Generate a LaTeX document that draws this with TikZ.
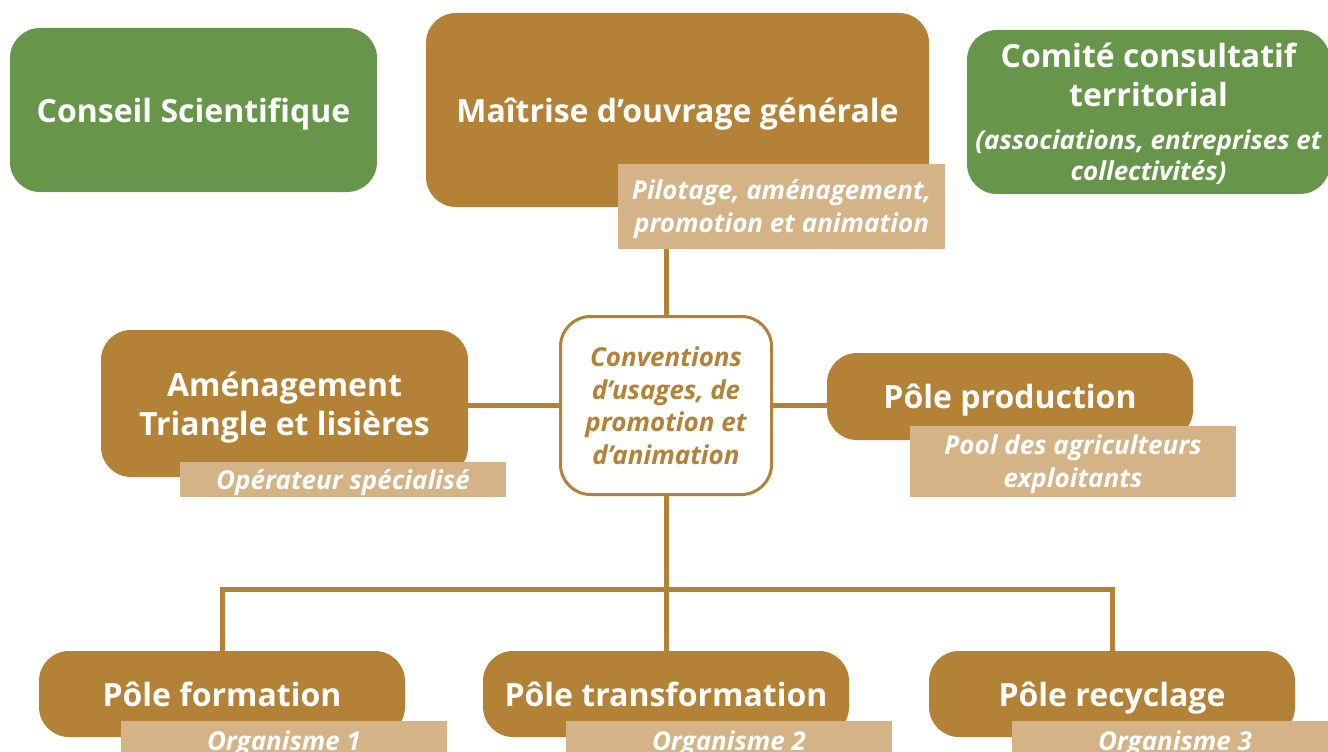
\documentclass[tikz,border=0pt]{standalone}
\usepackage{fontspec}
\setmainfont{Open Sans}
\usetikzlibrary{backgrounds}
\definecolor{brown}{HTML}{B48236}
\definecolor{leaf}{HTML}{67964A}
\definecolor{tan}{HTML}{D4B487}
\newcommand{\ttl}{\bfseries\fontsize{32}{39}\selectfont}
\newcommand{\itl}{\bfseries\itshape\fontsize{26}{33}\selectfont}
\begin{document}
\begin{tikzpicture}[x=1pt,y=-1pt,
  box/.style={rounded corners=30pt, inner sep=0pt, align=center, text=white, font=\ttl, text depth=0pt},
  gbox/.style={box, fill=leaf},
  bbox/.style={box, fill=brown},
  tbox/.style={fill=tan, inner sep=0pt, align=center, text=white, font=\itl, text depth=0pt},
  conn/.style={draw=brown, line width=5pt}]
\path[use as bounding box] (0,0) rectangle (1328,752);
\clip (0,0) rectangle (1328,752);
\node[gbox, minimum width=367pt, minimum height=164pt] (cs) at (193.5,110) {Conseil Scientifique};
\node[bbox, minimum width=503pt, minimum height=194pt] (mo) at (677.5,110) {Maîtrise d’ouvrage générale};
\node[tbox, minimum width=327pt, minimum height=85pt] (pil) at (781.5,206.5) {Pilotage, aménagement,\\promotion et animation};
\node[gbox, minimum width=363pt, minimum height=164pt] (cc) at (1148.5,112) {Comité consultatif\\territorial\\[4pt]{\fontsize{26}{31}\selectfont\itshape (associations, entreprises et}\\[-8pt]{\fontsize{26}{31}\selectfont\itshape collectivités)}};
\node[box, fill=white, draw=brown, line width=3pt, text=brown, minimum width=211pt, minimum height=178pt, font=\bfseries\itshape\fontsize{26}{32.5}\selectfont] (ctr) at (666,405.5) {Conventions\\d’usages, de\\promotion et\\d’animation};
\node[bbox, minimum width=367pt, minimum height=147pt] (am) at (284.5,403.5) {Aménagement\\Triangle et lisières};
\node[tbox, minimum width=326pt, minimum height=35pt] (op) at (343,479.5) {Opérateur spécialisé};
\node[bbox, minimum width=366pt, minimum height=87pt] (prod) at (1010,396.5) {Pôle production};
\node[tbox, minimum width=326pt, minimum height=71pt] (pool) at (1073,461.5) {Pool des agriculteurs\\exploitants};
\node[bbox, minimum width=366pt, minimum height=86pt] (form) at (222,694) {Pôle formation};
\node[bbox, minimum width=366pt, minimum height=86pt] (trans) at (666,694) {Pôle transformation};
\node[bbox, minimum width=366pt, minimum height=86pt] (recy) at (1112,694) {Pôle recyclage};
\node[tbox, minimum width=326pt, minimum height=40pt] (o1) at (284,741) {Organisme 1};
\node[tbox, minimum width=326pt, minimum height=40pt] (o2) at (729,741) {Organisme 2};
\node[tbox, minimum width=326pt, minimum height=40pt] (o3) at (1175,741) {Organisme 3};
\coordinate (bus) at (666,589);
\begin{scope}[on background layer]
\draw[conn] (ctr.north) -- (ctr.north |- pil.south);
\draw[conn] (ctr.west) -- (ctr.west -| am.east);
\draw[conn] (ctr.east) -- (ctr.east -| prod.west);
\draw[conn] (ctr.south) -- (bus);
\draw[conn] (form.north) |- (bus) -| (recy.north);
\draw[conn] (bus) -- (trans.north);
\end{scope}
\end{tikzpicture}
\end{document}
